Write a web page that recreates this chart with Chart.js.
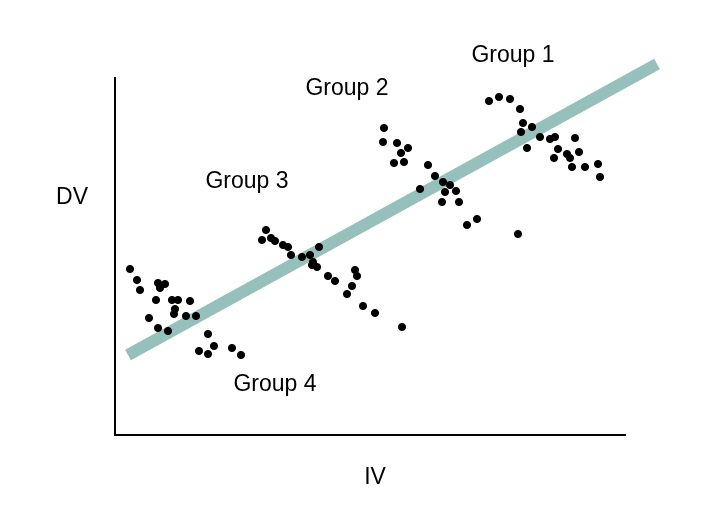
<!DOCTYPE html>
<html>
<head>
<meta charset="utf-8">
<script src="https://cdn.jsdelivr.net/npm/chart.js@4"></script>
<style>
  html, body { margin: 0; padding: 0; background: #fff; }
  #wrap { width: 716px; height: 526px; }
</style>
</head>
<body>
<div id="wrap"><canvas id="myChart"></canvas></div>
<script>
// picture pixels, converted below to data units (x from left axis, y up from bottom axis)
const groupPts = [
  [130,269],[137,280],[140,290],[158,283],[165,284],[160,288],[156,300],[172,300],[178,300],[190,301],
  [175,309],[174,314],[186,316],[149,318],[158,328],[168,331],[196,316],[208,334],[214,346],[199,351],
  [208,354],[232,348],[241,355],
  [266,230],[262,240],[271,238],[275,241],[283,245],[288,247],[291,255],[302,257],[310,255],[313,262],
  [317,267],[319,247],[312,265],[328,276],[335,281],[355,270],[357,276],[352,286],[347,294],[363,306],
  [375,313],[402,327],
  [384,128],[383,142],[397,143],[408,148],[401,153],[394,163],[404,162],[428,165],[435,176],[443,182],
  [450,185],[445,192],[456,191],[442,202],[459,202],[420,189],[477,219],[467,225],[518,234],
  [489,101],[499,97],[510,99],[520,109],[523,123],[521,132],[532,127],[540,137],[527,148],[550,139],
  [555,137],[575,138],[558,149],[554,158],[567,154],[570,158],[579,152],[572,167],[585,167],[598,164],
  [600,177]
];
const points = groupPts.map(p => ({ x: p[0] - 115, y: 435 - p[1] }));
const trend = [{ x: 13, y: 80 }, { x: 542, y: 371 }];
const groupLabels = ['Group 1', 'Group 2', 'Group 3', 'Group 4'];
const labelPos = [[398, 379], [232, 346], [132, 253], [160, 50]];

const labelPlugin = {
  id: 'labels',
  afterDraw(chart) {
    const c = chart.ctx, xs = chart.scales.x, ys = chart.scales.y;
    c.save();
    c.fillStyle = '#000';
    c.font = '23px "Liberation Sans", Arial, sans-serif';
    c.textAlign = 'center';
    c.textBaseline = 'middle';
    groupLabels.forEach((t, i) => {
      c.fillText(t, xs.getPixelForValue(labelPos[i][0]), ys.getPixelForValue(labelPos[i][1]));
    });
    c.fillText('DV', 72, 198);
    c.fillText('IV', 375, 478);
    c.restore();
  }
};

new Chart(document.getElementById('myChart'), {
  type: 'scatter',
  data: {
    datasets: [
      { data: trend, type: 'line', showLine: true, borderColor: '#96c0bb', borderWidth: 12,
        pointRadius: 0, borderCapStyle: 'butt', clip: false, order: 2 },
      { data: points, backgroundColor: '#000', borderColor: '#000', pointRadius: 3.6, order: 1 }
    ]
  },
  options: {
    responsive: true,
    maintainAspectRatio: false,
    animation: false,
    layout: { padding: { left: 107, right: 91, top: 78, bottom: 83 } },
    plugins: { legend: { display: false }, tooltip: { enabled: false } },
    scales: {
      x: { type: 'linear', min: 0, max: 510, ticks: { display: false }, grid: { display: false },
           border: { color: '#000', width: 2 } },
      y: { type: 'linear', min: 0, max: 357, ticks: { display: false }, grid: { display: false },
           border: { color: '#000', width: 2 } }
    }
  },
  plugins: [labelPlugin]
});
</script>
</body>
</html>
